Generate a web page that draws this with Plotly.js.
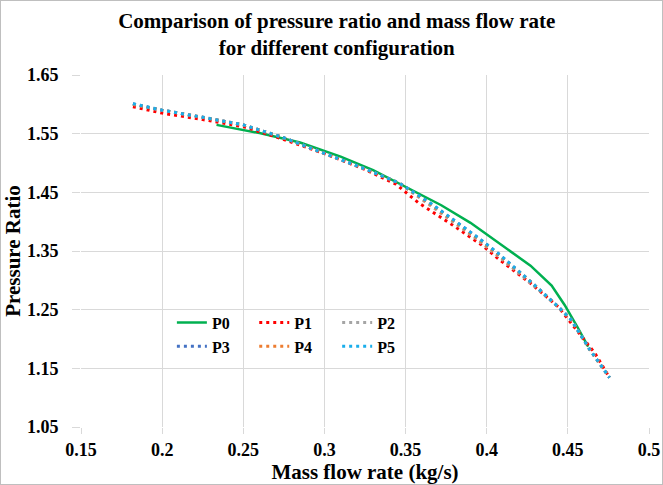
<!DOCTYPE html>
<html><head><meta charset="utf-8">
<script src="https://cdn.plot.ly/plotly-3.0.1.min.js"></script>
<style>html,body{margin:0;padding:0;background:#fff;}#wrap{width:661px;height:483px;border:1px solid #bfbfbf;}#chart{width:661px;height:483px;}</style>
</head><body><div id="wrap"><div id="chart"></div></div>
<script>
// Data
const p0x = [0.2335,0.26,0.285,0.31,0.33,0.35,0.372,0.39,0.407,0.427,0.44,0.448,0.456,0.4625];
const p0y = [1.565,1.551,1.535,1.511,1.488,1.459,1.428,1.398,1.364,1.325,1.291,1.258,1.220,1.187];
const p1x = [0.182,0.20,0.225,0.25,0.274,0.30,0.325,0.344,0.358,0.378,0.397,0.407,0.427,0.444,0.4666,0.4757];
const p1y = [1.596,1.585,1.574,1.562,1.541,1.516,1.489,1.464,1.432,1.396,1.360,1.337,1.295,1.255,1.176,1.134];
const p2x = [0.182,0.20,0.225,0.25,0.274,0.30,0.325,0.346,0.364,0.381,0.393,0.405,0.426,0.444,0.452,0.4635,0.4757];
const p2y = [1.600,1.590,1.578,1.565,1.544,1.516,1.490,1.466,1.430,1.396,1.372,1.346,1.298,1.255,1.233,1.182,1.134];
const p3x = [0.182,0.20,0.225,0.25,0.274,0.30,0.325,0.346,0.366,0.383,0.395,0.407,0.427,0.444,0.452,0.4635,0.4757];
const p3y = [1.601,1.590,1.578,1.565,1.544,1.516,1.490,1.466,1.430,1.396,1.372,1.346,1.298,1.255,1.233,1.182,1.134];
const p4x = [0.182,0.20,0.225,0.25,0.274,0.30,0.325,0.346,0.365,0.382,0.394,0.406,0.427,0.444,0.452,0.4635,0.4757];
const p4y = [1.600,1.590,1.578,1.565,1.544,1.516,1.490,1.466,1.430,1.396,1.372,1.346,1.298,1.255,1.233,1.182,1.134];
const p5x = [0.182,0.20,0.225,0.25,0.274,0.30,0.325,0.346,0.366,0.383,0.395,0.407,0.427,0.444,0.452,0.4635,0.4757];
const p5y = [1.601,1.590,1.578,1.565,1.544,1.516,1.490,1.466,1.430,1.396,1.372,1.346,1.298,1.255,1.233,1.182,1.134];
const xTicks = [0.15,0.2,0.25,0.3,0.35,0.4,0.45,0.5];
const xTickText = ['0.15','0.2','0.25','0.3','0.35','0.4','0.45','0.5'];
const yTicks = [1.05,1.15,1.25,1.35,1.45,1.55,1.65];
const yTickText = ['1.05','1.15','1.25','1.35','1.45','1.55','1.65'];

const serif = '"Liberation Serif", serif';
const dotDash = '3px,4px';
function tr(name, x, y, color, dash, width, legend){
  return {x:x, y:y, name:name, type:'scatter', mode:'lines',
    line:{color:color, dash:dash, width:width}, legend:legend};
}
const data = [
  tr('P0', p0x, p0y, '#00B050', 'solid', 2.5, 'legend'),
  tr('P1', p1x, p1y, '#FF0000', dotDash, 3, 'legend2'),
  tr('P2', p2x, p2y, '#A5A5A5', dotDash, 3, 'legend3'),
  tr('P3', p3x, p3y, '#4472C4', dotDash, 3, 'legend'),
  tr('P4', p4x, p4y, '#ED7D31', dotDash, 3, 'legend2'),
  tr('P5', p5x, p5y, '#1AAEEB', dotDash, 3, 'legend3')
];
const legFont = {family:serif, size:16, color:'#000', weight:'bold'};
function leg(x){
  return {x:x, y:0.345, xanchor:'left', yanchor:'top', bgcolor:'rgba(0,0,0,0)',
    font:legFont, tracegroupgap:0, itemwidth:30, orientation:'v'};
}
const layout = {
  width:661, height:483,
  margin:{l:80, r:13, t:74, b:57},
  paper_bgcolor:'#fff', plot_bgcolor:'#fff',
  title:{text:'Comparison of pressure ratio and mass flow rate<br>for different configuration',
    font:{family:serif, size:21, color:'#000', weight:'bold'}, x:0.508, xanchor:'center',
    yref:'container', y:0.944, yanchor:'middle'},
  xaxis:{range:[0.15,0.5], tickvals:xTicks, ticktext:xTickText, showgrid:true, gridcolor:'#d9d9d9', gridwidth:1,
    zeroline:false, showline:false, ticks:'outside', ticklen:6, tickcolor:'#d9d9d9', ticklabeloverflow:'allow',
    tickfont:{family:serif, size:18, color:'#000', weight:'bold'},
    title:{text:'Mass flow rate (kg/s)', font:{family:serif, size:21, color:'#000', weight:'bold'}, standoff:2}},
  yaxis:{range:[1.05,1.65], tickvals:yTicks, ticktext:yTickText, showgrid:true, gridcolor:'#d9d9d9', gridwidth:1,
    zeroline:false, showline:false, ticks:'outside', ticklen:8, tickcolor:'#d9d9d9', ticklabelstandoff:10,
    tickfont:{family:serif, size:18, color:'#000', weight:'bold'},
    title:{text:'Pressure Ratio', font:{family:serif, size:21, color:'#000', weight:'bold'}, standoff:2}},
  legend:leg(0.16), legend2:leg(0.305), legend3:leg(0.451),
  showlegend:true
};
Plotly.newPlot('chart', data, layout, {displayModeBar:false, staticPlot:true});
</script></body></html>
